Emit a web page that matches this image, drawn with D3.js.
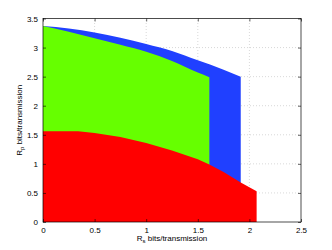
<!DOCTYPE html>
<html>
<head>
<meta charset="utf-8">
<script src="https://cdn.jsdelivr.net/npm/d3@7"></script>
<style>
  html, body { margin: 0; padding: 0; background: #fff; }
  svg { display: block; }
  text { font-family: "Liberation Sans", Arial, Helvetica, sans-serif; }
</style>
</head>
<body>
<svg id="chart" width="332" height="250"></svg>
<script>
// ---- data ----
const xTicks = [0, 0.5, 1, 1.5, 2, 2.5];
const yTicks = [0, 0.5, 1, 1.5, 2, 2.5, 3, 3.5];

const blueX = [0, 0.25, 0.5, 0.75, 1.0, 1.25, 1.5, 1.75, 1.916];
const blueY = [3.37, 3.33, 3.26, 3.17, 3.06, 2.94, 2.78, 2.62, 2.5];

const greenX = [0, 0.25, 0.5, 0.75, 1.0, 1.25, 1.5, 1.612];
const greenY = [3.37, 3.27, 3.16, 3.05, 2.93, 2.77, 2.57, 2.49];

const redX = [0, 0.34, 0.5, 0.75, 1.0, 1.25, 1.5, 1.612, 1.75, 1.916, 2.07];
const redY = [1.56, 1.56, 1.53, 1.46, 1.36, 1.23, 1.08, 0.99, 0.86, 0.68, 0.53];

const xLabelMain = "R", xLabelSub = "s", xLabelRest = " bits/transmission";
const yLabelMain = "R", yLabelSub = "p", yLabelRest = " bits/transmission";

// ---- layout ----
const svg = d3.select("#chart");
const L = 43, R = 301, T = 18.5, B = 222;
const x = d3.scaleLinear().domain([0, 2.5]).range([L, R]);
const y = d3.scaleLinear().domain([0, 3.5]).range([B, T]);

// grid
const grid = svg.append("g").attr("stroke", "#bdbdbd").attr("stroke-width", 0.6)
  .attr("stroke-dasharray", "1,2");
grid.selectAll("line.gx").data(xTicks.slice(1, -1)).enter().append("line")
  .attr("x1", d => x(d)).attr("x2", d => x(d)).attr("y1", B).attr("y2", T);
grid.selectAll("line.gy").data(yTicks.slice(1, -1)).enter().append("line")
  .attr("y1", d => y(d)).attr("y2", d => y(d)).attr("x1", L).attr("x2", R);

// regions
function region(xs, ys, curve) {
  const pts = xs.map((v, i) => [v, ys[i]]);
  return d3.area().x(d => x(d[0])).y0(y(0)).y1(d => y(d[1])).curve(curve)(pts);
}
svg.append("path").attr("d", region(blueX, blueY, d3.curveMonotoneX)).attr("fill", "#2040ff");
svg.append("path").attr("d", region(greenX, greenY, d3.curveMonotoneX)).attr("fill", "#66ff00");
svg.append("path").attr("d", region(redX, redY, d3.curveLinear)).attr("fill", "#ff0000");

// axes (MATLAB box style)
const tickLen = 3;
const xAxB = d3.axisBottom(x).tickValues(xTicks).tickSize(-tickLen).tickPadding(5)
  .tickFormat(d3.format("~g"));
const xAxT = d3.axisTop(x).tickValues(xTicks).tickSize(-tickLen).tickFormat("");
const yAxL = d3.axisLeft(y).tickValues(yTicks).tickSize(-tickLen).tickPadding(5)
  .tickFormat(d3.format("~g"));
const yAxR = d3.axisRight(y).tickValues(yTicks).tickSize(-tickLen).tickFormat("");

function style(g) {
  g.select(".domain").remove();
  g.selectAll(".tick line").attr("stroke", "#000").attr("stroke-width", 0.6);
  g.selectAll(".tick text").attr("fill", "#000").attr("font-size", 8)
    .attr("font-family", '"Liberation Sans", Arial, sans-serif');
}
svg.append("g").attr("transform", `translate(0,${B})`).call(xAxB).call(style);
svg.append("g").attr("transform", `translate(0,${T})`).call(xAxT).call(style);
svg.append("g").attr("transform", `translate(${L},0)`).call(yAxL).call(style);
svg.append("g").attr("transform", `translate(${R},0)`).call(yAxR).call(style);

svg.append("rect").attr("x", L).attr("y", T).attr("width", R - L).attr("height", B - T)
  .attr("fill", "none").attr("stroke", "#000").attr("stroke-width", 0.7);

// axis labels
const xl = svg.append("text").attr("x", (L + R) / 2).attr("y", 241)
  .attr("text-anchor", "middle").attr("font-size", 8).attr("fill", "#000");
xl.append("tspan").text(xLabelMain);
xl.append("tspan").attr("font-size", 6).attr("dy", 2).text(xLabelSub);
xl.append("tspan").attr("dy", -2).text(xLabelRest);

const yl = svg.append("text").attr("transform", `translate(22,${(T + B) / 2}) rotate(-90)`)
  .attr("text-anchor", "middle").attr("font-size", 8).attr("fill", "#000");
yl.append("tspan").text(yLabelMain);
yl.append("tspan").attr("font-size", 6).attr("dy", 2).text(yLabelSub);
yl.append("tspan").attr("dy", -2).text(yLabelRest);
</script>
</body>
</html>
